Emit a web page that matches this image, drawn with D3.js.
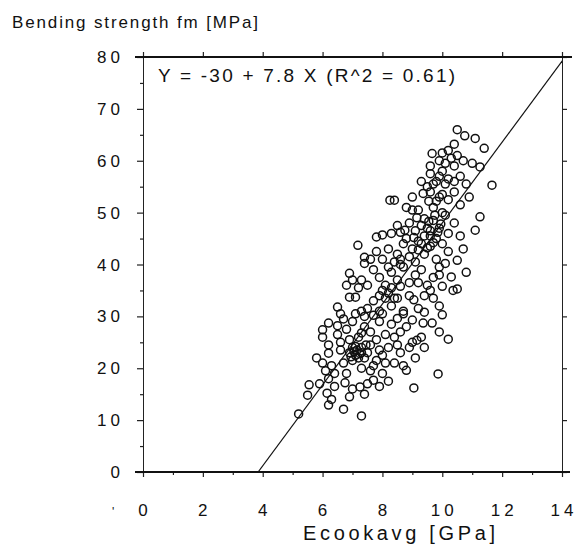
<!DOCTYPE html>
<html lang="en">
<head>
<meta charset="utf-8">
<title>Bending strength vs Ecookavg</title>
<style>
  body { margin: 0; background: #fff; }
  svg text { font-family: "Liberation Sans", Arial, sans-serif; fill: #111; }
</style>
</head>
<body>
<div id="chart"></div>
<script src="https://d3js.org/d3.v7.js"></script>
<script>
// Ecookavg [GPa], fm [MPa]
const points = [
  [5.2,11.2],[6.2,12.9],[6.7,12.1],[7.3,10.8],[5.5,14.8],[6.15,15.2],[6.3,14],[6.9,14.5],[7.4,15],
  [5.55,16.8],[5.9,17],[6.2,18],[6.4,16.5],[6.75,17.2],[6.8,19],[7.0,16],[7.25,16.4],[7.5,17],[7.7,17.7],
  [8.0,19],[8.2,17.5],[9.05,16.2],[9.86,18.9],[6.1,19.5],[7.3,20],[7.9,16.5],[8.8,19.6],
  [5.8,22],[6.0,21],[6.3,20.5],[6.2,22.9],[6.7,21],[6.9,23],[7.0,24],[7.1,22.5],[7.15,23.5],[7.3,24],
  [7.4,22],[7.5,23],[7.6,24.5],[7.8,21.5],[8.0,22.5],[8.2,24],[8.4,21],[8.6,23],[8.7,20.5],[9.1,22],
  [9.4,24],[6.2,24.5],[6.6,25],[7.0,21.5],[7.7,20.5],[8.5,24.5],[8.9,24],[7.25,22.8],[7.05,23.2],
  [7.1,24.2],[7.3,23],[7.2,22],[6.95,22.2],[7.45,24.5],[6.4,19],[6.6,23.5],[7.6,19.5],[7.9,23.5],[8.1,21],
  [6.0,27.4],[6.0,26],[6.2,28.7],[6.5,26.5],[6.8,27.5],[7.0,29],[7.2,26],[7.4,28],[7.6,27],[7.9,29],
  [8.1,26.5],[8.3,28.5],[8.5,29.6],[9.0,29.3],[9.36,28.7],[9.66,28.7],[9.0,25.0],[9.15,25.4],[8.6,27],
  [9.3,26],[9.9,27],[10.2,25.6],[10.0,30.3],[6.7,29.5],[7.8,25.5],[8.8,28],
  [6.9,25.5],[7.3,26.8],[6.5,28.2],[8.4,26],
  [6.5,31.8],[6.6,30.5],[6.9,33.7],[7.1,33.7],[7.3,31],[7.5,31.5],[7.7,33],[7.9,31],[8.2,34.5],[8.3,32],
  [8.5,33.5],[8.7,31],[8.9,34],[9.2,31.5],[9.4,34],[9.7,33.5],[9.9,32],[10.0,35.8],[10.36,35],[8.0,30.5],
  [7.4,30],[8.1,33.5],[9.05,33.2],[8.0,35],[8.3,35.5],[8.4,33.5],[7.9,34],[8.6,35.8],
  [7.1,30.5],[7.7,30.2],[8.7,30.5],[9.4,30.8],
  [6.9,38.3],[6.8,36],[7.0,37],[7.3,37],[7.5,36],[7.7,39],[7.9,37.5],[8.1,36],[8.3,38.5],[8.5,37],
  [8.7,39.5],[8.9,36.5],[9.1,38],[9.3,39],[9.5,36],[9.7,37.5],[9.9,39.5],[10.3,37.6],[10.5,35.3],[8.2,39.5],
  [8.6,40],[7.2,35.5],[9.2,36.5],[9.6,35],[9.9,38],[10.8,38.5],
  [7.18,43.7],[7.4,41.4],[7.4,40.2],[7.8,45.3],[8.0,45.7],[7.6,41],[7.8,42.5],[8.0,41],[8.2,43],[8.4,40.5],
  [8.5,42],[8.7,44],[8.9,41.5],[9.0,43],[9.2,44.5],[9.4,42],[9.6,43.5],[9.8,41],[10.0,44],[10.2,42.5],
  [10.5,40.8],[10.7,43],[8.6,41],[9.1,40.5],[9.5,43.2],[9.7,44.2],[10.1,40.2],
  [9.2,42.8],[9.3,44],[8.8,45],[9.05,45.2],
  [8.6,46.2],[8.75,46.6],[8.3,46],[8.5,47.5],[8.9,48],[9.15,49],[9.1,46.5],[9.3,47.5],[9.5,47],[9.6,45.5],
  [9.7,48.5],[9.9,47],[10.1,49.5],[10.2,46],[10.4,48],[10.6,45.5],[11.1,46.6],[11.26,49.2],[9.0,50.5],
  [9.8,45],[9.85,46.2],[9.95,47.8],[9.4,45.5],[9.6,46.5],[9.75,49.5],[9.55,48.3],[9.4,48.8],
  [8.25,52.4],[8.4,52.4],[8.8,51],[9.0,53],[9.2,50.5],[9.36,53.7],[9.6,54],[9.7,51],[9.9,53],[10.0,50],
  [10.2,52.5],[10.4,54],[10.6,51.5],[10.9,53],[11.66,55.3],[9.5,55],[10.1,55.5],[9.55,52.2],
  [9.8,52.2],[10.0,53.5],[9.7,55.5],
  [9.3,56],[9.6,57.5],[9.8,56],[10.0,58],[10.2,56.5],[10.4,59],[10.6,57],[10.8,55.5],[11.26,58.8],
  [9.9,57],[10.1,59.5],[9.6,59],[10.4,56],
  [9.66,61.4],[10.0,61.5],[10.2,62],[10.5,61],[9.9,60],[10.3,60.5],[10.7,60],[11.0,59.5],
  [10.5,66],[10.75,64.8],[11.1,64.3],[11.4,62.4],[10.4,63.2]
];

// regression given on the plot: Y = -30 + 7.8 X
const intercept = -30, slope = 7.8;
const equation = "Y = -30 + 7.8 X (R^2 = 0.61)";
const xTicks = [0, 2, 4, 6, 8, 10, 12, 14];
const yTicks = [0, 10, 20, 30, 40, 50, 60, 70, 80];

const W = 577, H = 551;
const margin = { left: 143, right: 562, top: 57, bottom: 472 };

const x = d3.scaleLinear().domain([0, 14]).range([margin.left, margin.right]);
const y = d3.scaleLinear().domain([0, 80]).range([margin.bottom, margin.top]);

const svg = d3.select("#chart").append("svg")
  .attr("width", W).attr("height", H);

svg.append("defs").append("clipPath").attr("id", "plot")
  .append("rect").attr("x", margin.left).attr("y", margin.top)
  .attr("width", margin.right - margin.left).attr("height", margin.bottom - margin.top);

// thin side axes with ticks
svg.append("g").attr("transform", `translate(${margin.left},0)`)
  .call(d3.axisLeft(y).tickValues(yTicks).tickSize(6).tickSizeOuter(0).tickFormat(""));
svg.append("g").attr("transform", `translate(${margin.left},0)`)
  .call(d3.axisLeft(y).tickValues(d3.range(5, 80, 10)).tickSize(3).tickFormat(""))
  .select(".domain").remove();
svg.append("g").attr("transform", `translate(${margin.right},0)`)
  .call(d3.axisRight(y).tickValues(yTicks).tickSize(5).tickSizeOuter(0).tickFormat(""));
svg.append("g").attr("transform", `translate(0,${margin.top})`)
  .call(d3.axisTop(x).tickValues(xTicks).tickSize(5).tickFormat(""))
  .select(".domain").remove();
svg.append("g").attr("transform", `translate(0,${margin.bottom})`)
  .call(d3.axisBottom(x).tickValues(xTicks).tickSize(5).tickFormat(""))
  .select(".domain").remove();
svg.append("g").attr("transform", `translate(0,${margin.bottom})`)
  .call(d3.axisBottom(x).tickValues(d3.range(1, 14, 2)).tickSize(3).tickFormat(""))
  .select(".domain").remove();

svg.selectAll(".domain").attr("stroke", "#222").attr("stroke-width", 1);
svg.selectAll(".tick line").attr("stroke", "#222").attr("stroke-width", 1.2);

// heavy top and bottom rules
svg.append("line").attr("x1", 135).attr("x2", 572)
  .attr("y1", y(80)).attr("y2", y(80))
  .attr("stroke", "#111").attr("stroke-width", 2.2);
svg.append("line").attr("x1", 135).attr("x2", 570)
  .attr("y1", y(0)).attr("y2", y(0))
  .attr("stroke", "#111").attr("stroke-width", 2.2);

// tick labels (spaced digits like the original)
svg.append("g").selectAll("text").data(yTicks).join("text")
  .attr("x", 124).attr("y", d => y(d)).attr("dy", "0.36em")
  .attr("text-anchor", "end").attr("font-size", 17)
  .attr("letter-spacing", 4)
  .text(d => d);

svg.append("g").selectAll("text").data(xTicks).join("text")
  .attr("x", d => x(d) + (d >= 10 ? 2 : 0)).attr("y", 516)
  .attr("text-anchor", "middle").attr("font-size", 17)
  .attr("letter-spacing", d => d >= 10 ? 4 : 0)
  .text(d => d);

// stray mark next to the first x label
svg.append("text").attr("x", 112).attr("y", 516)
  .attr("font-size", 12).text("'");

// regression line
svg.append("line").attr("clip-path", "url(#plot)")
  .attr("x1", x(-intercept / slope)).attr("y1", y(0))
  .attr("x2", x((80 - intercept) / slope)).attr("y2", y(80))
  .attr("stroke", "#111").attr("stroke-width", 1.2);

// data points
svg.append("g").selectAll("circle").data(points).join("circle")
  .attr("cx", d => x(d[0])).attr("cy", d => y(d[1]))
  .attr("r", 4)
  .attr("fill", "none").attr("stroke", "#111").attr("stroke-width", 1.5);

// texts
svg.append("text").attr("x", 158).attr("y", 82)
  .attr("font-size", 19).attr("textLength", 297).attr("lengthAdjust", "spacing")
  .text(equation);

svg.append("text").attr("x", 12).attr("y", 28)
  .attr("font-size", 17).attr("textLength", 246).attr("lengthAdjust", "spacing")
  .text("Bending strength fm [MPa]");

svg.append("text").attr("x", 303).attr("y", 540)
  .attr("font-size", 20).attr("textLength", 192).attr("lengthAdjust", "spacing")
  .text("Ecookavg [GPa]");
</script>
</body>
</html>
